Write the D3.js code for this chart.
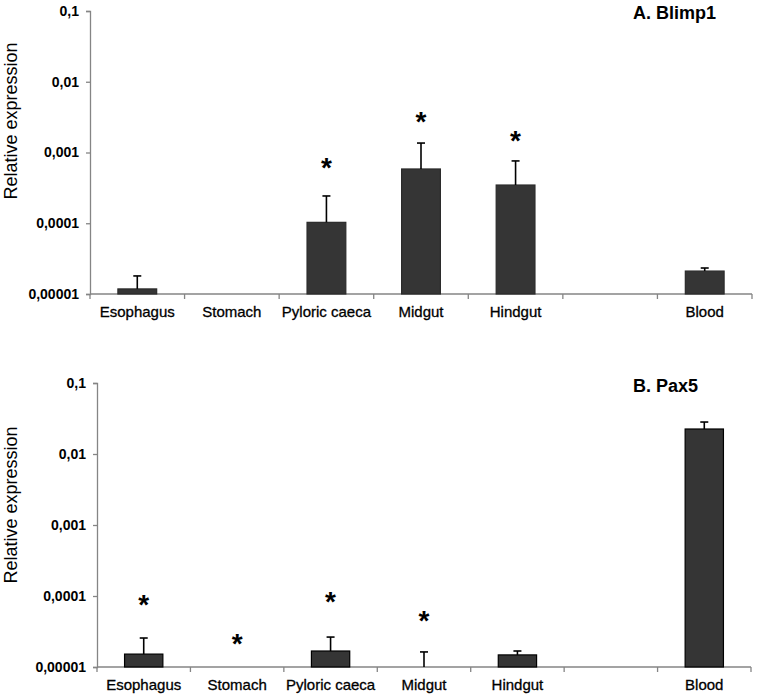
<!DOCTYPE html>
<html>
<head>
<meta charset="utf-8">
<script src="https://cdn.jsdelivr.net/npm/d3@7"></script>
<style>
  html, body { margin: 0; padding: 0; background: #fff; }
  svg { display: block; font-family: "Liberation Sans", Arial, sans-serif; }
</style>
</head>
<body>
<svg id="chart" width="759" height="698"></svg>
<script>
// ---- Data ----
const categories = ["Esophagus", "Stomach", "Pyloric caeca", "Midgut", "Hindgut", "", "Blood"];
const yTickValues = [0.00001, 0.0001, 0.001, 0.01, 0.1];
const yTickLabels = ["0,00001", "0,0001", "0,001", "0,01", "0,1"];

// Panel A: Blimp1 (mean, upper error end, asterisk level)
const blimp1Values = [1.18e-5, null, 1.03e-4, 5.85e-4, 3.47e-4, null, 2.11e-5];
const blimp1ErrTop = [1.8e-5, null, 2.43e-4, 1.36e-3, 7.6e-4, null, 2.33e-5];
const blimp1Stars  = [null, null, 7.3e-4, 3.28e-3, 1.77e-3, null, null];

// Panel B: Pax5
const pax5Values = [1.52e-5, null, 1.68e-5, 1.0e-5, 1.48e-5, null, 0.0225];
const pax5ErrTop = [2.56e-5, null, 2.64e-5, 1.63e-5, 1.68e-5, null, 0.0282];
const pax5Stars  = [9.07e-5, 2.56e-5, 1.0e-4, 5.4e-5, null, null, null];

const svg = d3.select("#chart");

function drawPanel(cfg) {
  const g = svg.append("g");
  const x = d3.scaleBand().domain(d3.range(categories.length)).range([cfg.x0, cfg.x1]).padding(0);
  const y = d3.scaleLog().domain([1e-5, 0.1]).range([cfg.y0, cfg.y1]);
  const barW = x.bandwidth() * 0.41;
  const axisColor = "#858585";

  // Y axis
  const yAxis = d3.axisLeft(y).tickValues(yTickValues)
    .tickFormat((d, i) => yTickLabels[i]).tickSize(4).tickPadding(7);
  const ya = g.append("g").attr("transform", `translate(${cfg.x0},0)`).call(yAxis);
  ya.select(".domain").attr("stroke", axisColor).attr("stroke-width", 1.3);
  ya.selectAll(".tick line").attr("stroke", axisColor).attr("stroke-width", 1.3);
  ya.selectAll(".tick text").attr("fill", "#000").style("font-size", "14px")
    .style("font-weight", "bold").style("font-family", "'Liberation Sans', Arial, sans-serif");

  // X axis (ticks at band boundaries)
  const bounds = d3.range(categories.length + 1).map(i => i < categories.length ? x(i) : cfg.x1);
  g.append("line").attr("x1", cfg.x0).attr("x2", cfg.x1).attr("y1", cfg.y0).attr("y2", cfg.y0)
    .attr("stroke", axisColor).attr("stroke-width", 1.3);
  g.selectAll(".xt").data(bounds).enter().append("line")
    .attr("x1", d => d).attr("x2", d => d).attr("y1", cfg.y0).attr("y2", cfg.y0 + 5)
    .attr("stroke", axisColor).attr("stroke-width", 1.3);
  g.selectAll(".xl").data(categories).enter().append("text")
    .attr("x", (d, i) => x(i) + x.bandwidth() / 2)
    .attr("y", cfg.y0 + 23)
    .attr("text-anchor", "middle")
    .style("font-size", "15px")
    .attr("stroke", "#000").attr("stroke-width", 0.3)
    .text(d => d);

  // Bars
  const idx = d3.range(categories.length);
  g.selectAll(".bar").data(idx.filter(i => cfg.values[i] != null && y(cfg.values[i]) < cfg.y0 - 0.5))
    .enter().append("rect")
    .attr("x", i => x(i) + (x.bandwidth() - barW) / 2)
    .attr("y", i => y(cfg.values[i]))
    .attr("width", barW)
    .attr("height", i => cfg.y0 - y(cfg.values[i]))
    .attr("fill", "#353535")
    .attr("stroke", cfg.barStroke)
    .attr("stroke-width", 1.2);

  // Error bars (upper only)
  const eIdx = idx.filter(i => cfg.err[i] != null);
  g.selectAll(".err").data(eIdx).enter().append("line")
    .attr("x1", i => x(i) + x.bandwidth() / 2)
    .attr("x2", i => x(i) + x.bandwidth() / 2)
    .attr("y1", i => y(Math.max(cfg.values[i], 1e-5)))
    .attr("y2", i => y(cfg.err[i]))
    .attr("stroke", "#000").attr("stroke-width", 1.6);
  g.selectAll(".cap").data(eIdx).enter().append("line")
    .attr("x1", i => x(i) + x.bandwidth() / 2 - 4)
    .attr("x2", i => x(i) + x.bandwidth() / 2 + 4)
    .attr("y1", i => y(cfg.err[i]))
    .attr("y2", i => y(cfg.err[i]))
    .attr("stroke", "#000").attr("stroke-width", 1.6);

  // Asterisks
  g.selectAll(".star").data(idx.filter(i => cfg.stars[i] != null)).enter().append("text")
    .attr("x", i => x(i) + x.bandwidth() / 2)
    .attr("y", i => y(cfg.stars[i]) + 15)
    .attr("text-anchor", "middle")
    .style("font-size", "28px").style("font-weight", "bold")
    .text("*");

  // Y label
  g.append("text")
    .attr("transform", `translate(${cfg.labelX},${cfg.labelY}) rotate(-90)`)
    .attr("text-anchor", "middle")
    .style("font-size", "18px")
    .text("Relative expression");

  // Title
  g.append("text")
    .attr("x", cfg.titleX).attr("y", cfg.titleY)
    .attr("text-anchor", "end")
    .style("font-size", "18px").style("font-weight", "bold")
    .text(cfg.title);
}

drawPanel({
  x0: 90, x1: 752, y0: 294, y1: 11,
  values: blimp1Values, err: blimp1ErrTop, stars: blimp1Stars,
  barStroke: "#2a2a2a",
  labelX: 17, labelY: 121,
  title: "A. Blimp1", titleX: 716, titleY: 19
});

drawPanel({
  x0: 97, x1: 751, y0: 667, y1: 383,
  values: pax5Values, err: pax5ErrTop, stars: pax5Stars,
  barStroke: "#000",
  labelX: 17, labelY: 505,
  title: "B. Pax5", titleX: 698, titleY: 392
});
</script>
</body>
</html>
